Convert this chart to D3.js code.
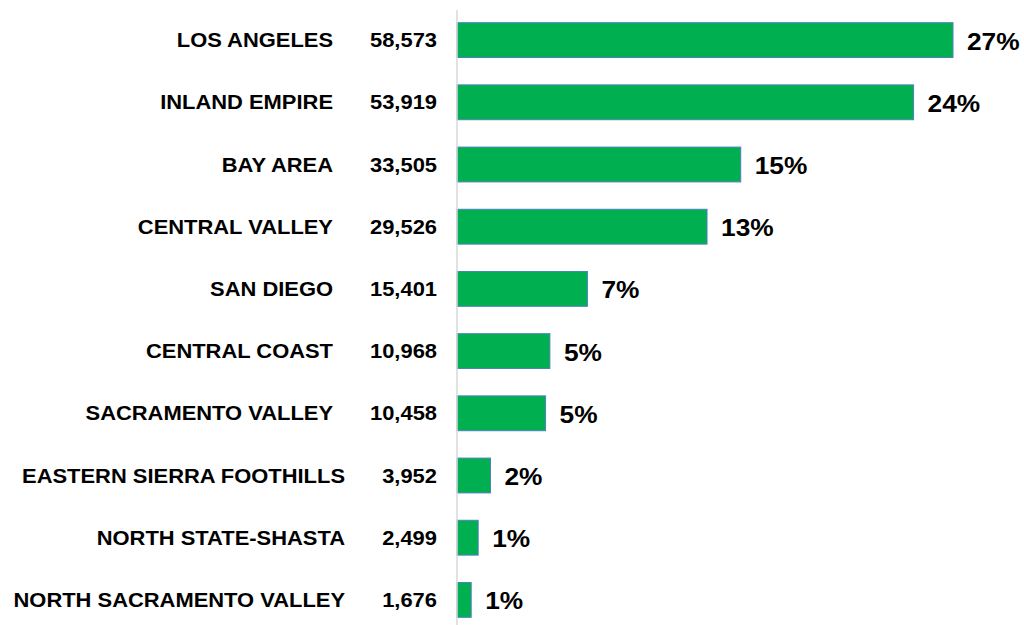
<!DOCTYPE html>
<html>
<head>
<meta charset="utf-8">
<script src="https://cdn.jsdelivr.net/npm/d3@7"></script>
<style>
  body { margin: 0; background: #fff; }
  text { font-family: Arial, "Liberation Sans", sans-serif; font-weight: bold; fill: #000; }
</style>
</head>
<body>
<script>
let width = 1024;
let height = 625;

// data
let regions = ["LOS ANGELES", "INLAND EMPIRE", "BAY AREA", "CENTRAL VALLEY", "SAN DIEGO",
    "CENTRAL COAST", "SACRAMENTO VALLEY", "EASTERN SIERRA FOOTHILLS",
    "NORTH STATE-SHASTA", "NORTH SACRAMENTO VALLEY"];
let counts = [58573, 53919, 33505, 29526, 15401, 10968, 10458, 3952, 2499, 1676];
let shares = [27, 24, 15, 13, 7, 5, 5, 2, 1, 1];

let rows = regions.map(function (r, i) {
    return { region: r, count: counts[i], share: shares[i], i: i };
});

let axisX = 457;
let stretch = 1.096; // the source text is a little wider than plain Arial

let svg = d3.select("body").append("svg")
    .attr("width", width)
    .attr("height", height);

let x = d3.scaleLinear()
    .domain([0, 58573])
    .range([axisX, 953]);

let y = d3.scaleBand()
    .domain(regions)
    .range([9, 631])
    .paddingInner(0.44)
    .paddingOuter(0.22);

function midY(d) {
    return y(d.region) + y.bandwidth() / 2;
}

// bars
svg.selectAll("rect.bar")
    .data(rows)
    .enter()
    .append("rect")
    .attr("class", "bar")
    .attr("x", x(0))
    .attr("y", d => y(d.region))
    .attr("width", d => x(d.count) - x(0))
    .attr("height", y.bandwidth())
    .attr("fill", "#00B050")
    .attr("stroke", "#4F81BD")
    .attr("stroke-width", 1);

// vertical axis line
svg.append("line")
    .attr("x1", axisX).attr("x2", axisX)
    .attr("y1", 10).attr("y2", height)
    .attr("stroke", "#d9d9d9")
    .attr("stroke-width", 1.5);

// region names (last three sit a bit further right in the original)
svg.selectAll("text.name")
    .data(rows)
    .enter()
    .append("text")
    .attr("class", "name")
    .attr("transform", d => "translate(" + (d.i >= 7 ? 345 : 333) + "," + midY(d) + ") scale(" + stretch + ",1)")
    .attr("dy", "0.35em")
    .attr("text-anchor", "end")
    .style("font-size", "20px")
    .text(d => d.region);

// counts
svg.selectAll("text.count")
    .data(rows)
    .enter()
    .append("text")
    .attr("class", "count")
    .attr("transform", d => "translate(437," + midY(d) + ") scale(" + stretch + ",1)")
    .attr("dy", "0.35em")
    .attr("text-anchor", "end")
    .style("font-size", "20px")
    .text(d => d3.format(",")(d.count));

// percent labels
svg.selectAll("text.pct")
    .data(rows)
    .enter()
    .append("text")
    .attr("class", "pct")
    .attr("transform", d => "translate(" + (x(d.count) + 14) + "," + (midY(d) + 1) + ") scale(" + stretch + ",1)")
    .attr("dy", "0.35em")
    .style("font-size", "24px")
    .text(d => d.share + "%");
</script>
</body>
</html>
